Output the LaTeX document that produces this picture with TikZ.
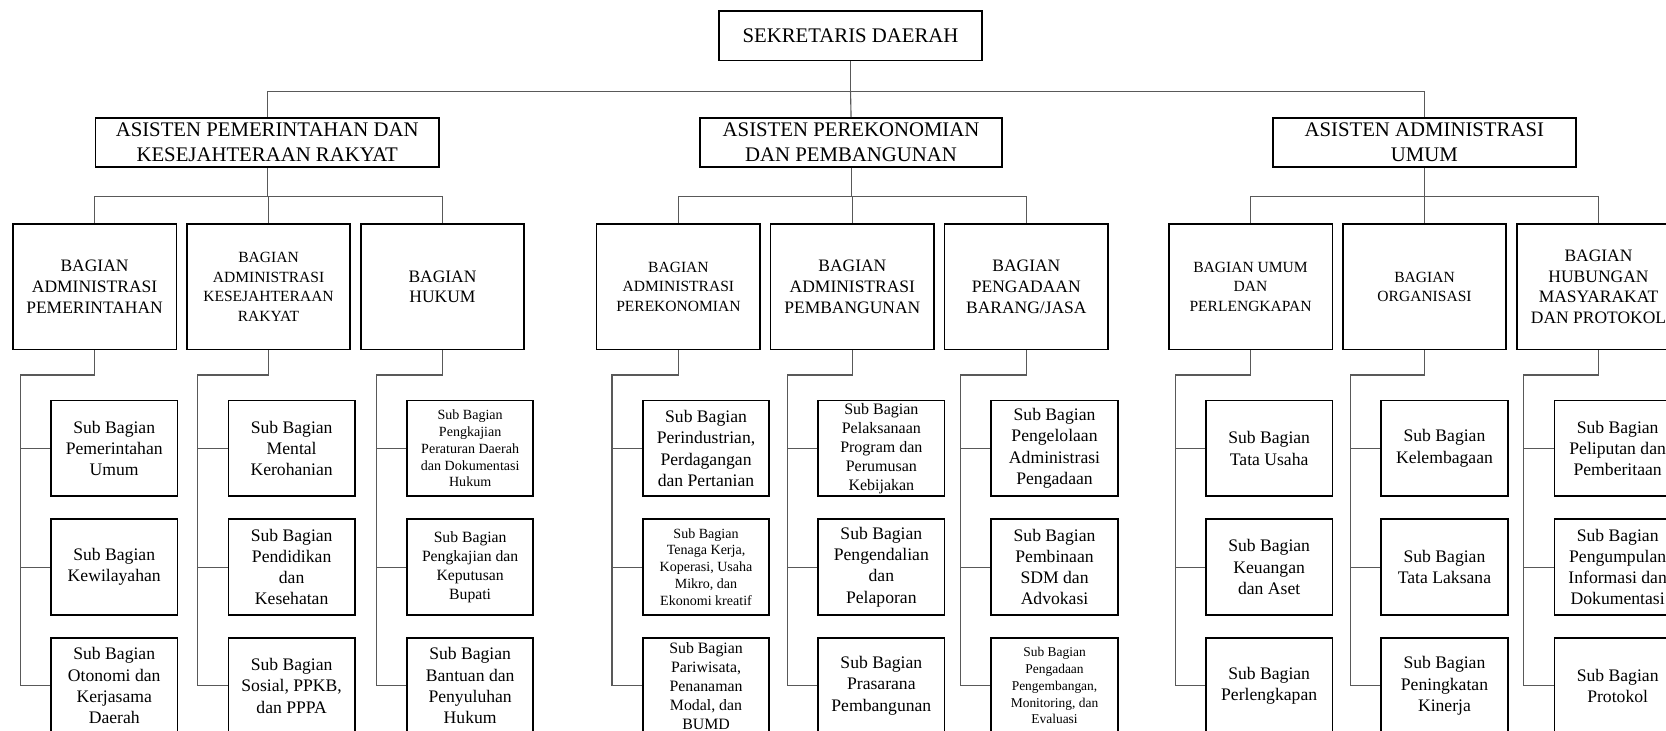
\documentclass[tikz,border=0pt]{standalone}
\usepackage{fontspec}
\setmainfont{Liberation Serif}
\usetikzlibrary{positioning}

\begin{document}
\begin{tikzpicture}[
        x=0.025cm, y=-0.025cm,
        node distance=0.5cm and 0.2cm,
        box/.style={rectangle,draw,line width=1.2pt,align=center,inner sep=0pt},
        kepalabox/.style={box,minimum height=1.15cm,font=\fontsize{13.9}{16.4}\selectfont},
        bagianbox/.style={box,minimum width=3.85cm,minimum height=2.95cm,font=\fontsize{11.7}{13.9}\selectfont},
        bagiankecil/.style={bagianbox,font=\fontsize{10.4}{13}\selectfont},
        subbox/.style={box,minimum width=2.975cm,minimum height=2.25cm,font=\fontsize{11.8}{14.2}\selectfont},
        subkecil/.style={subbox,font=\fontsize{9.4}{11.3}\selectfont},
        link/.style={draw=black!65,line width=0.75pt}
    ]
        \useasboundingbox (0,0) rectangle (1568,688);
        \clip (0,0) rectangle (1568,688);

        % pimpinan
        \node[kepalabox, minimum width=6.175cm, minimum height=1.175cm] (sekda) at (800.5,33.5) {SEKRETARIS DAERAH};
        \node[kepalabox, minimum width=8.075cm] (a1) at (251.5,134) {ASISTEN PEMERINTAHAN DAN\\KESEJAHTERAAN RAKYAT};
        \node[kepalabox, minimum width=7.1cm] (a2) at (801,134) {ASISTEN PEREKONOMIAN\\DAN PEMBANGUNAN};
        \node[kepalabox, minimum width=7.125cm] (a3) at (1340.5,134) {ASISTEN ADMINISTRASI\\UMUM};

        % bagian
        \node[bagianbox] (b11) at (89,270) {BAGIAN\\ADMINISTRASI\\PEMERINTAHAN};
        \node[bagiankecil, right=of b11] (b12) {BAGIAN\\ADMINISTRASI\\KESEJAHTERAAN\\RAKYAT};
        \node[bagianbox, right=of b12] (b13) {BAGIAN\\HUKUM};

        \node[bagiankecil] (b21) at (638.5,270) {BAGIAN\\ADMINISTRASI\\PEREKONOMIAN};
        \node[bagianbox, right=of b21] (b22) {BAGIAN\\ADMINISTRASI\\PEMBANGUNAN};
        \node[bagianbox, right=of b22] (b23) {BAGIAN\\PENGADAAN\\BARANG/JASA};

        \node[bagiankecil] (b31) at (1177,270) {BAGIAN UMUM\\DAN\\PERLENGKAPAN};
        \node[bagiankecil, right=of b31] (b32) {BAGIAN\\ORGANISASI};
        \node[bagianbox, right=of b32] (b33) {BAGIAN\\HUBUNGAN\\MASYARAKAT\\DAN PROTOKOL};

        % sub bagian - pemerintahan dan kesra
        \node[subbox] (s111) at (107.5,422) {Sub Bagian\\Pemerintahan\\Umum};
        \node[subbox, below=of s111] (s112) {Sub Bagian\\Kewilayahan};
        \node[subbox, below=of s112] (s113) {Sub Bagian\\Otonomi dan\\Kerjasama\\Daerah};
        \node[subbox] (s121) at (274.5,422) {Sub Bagian\\Mental\\Kerohanian};
        \node[subbox, below=of s121] (s122) {Sub Bagian\\Pendidikan\\dan\\Kesehatan};
        \node[subbox, below=of s122] (s123) {Sub Bagian\\Sosial, PPKB,\\dan PPPA};
        \node[subkecil] (s131) at (442.5,422) {Sub Bagian\\Pengkajian\\Peraturan Daerah\\dan Dokumentasi\\Hukum};
        \node[subbox, below=of s131, font=\fontsize{10.5}{12.8}\selectfont] (s132) {Sub Bagian\\Pengkajian dan\\Keputusan\\Bupati};
        \node[subbox, below=of s132] (s133) {Sub Bagian\\Bantuan dan\\Penyuluhan\\Hukum};

        % sub bagian - perekonomian dan pembangunan
        \node[subbox] (s211) at (664.5,422) {Sub Bagian\\Perindustrian,\\Perdagangan\\dan Pertanian};
        \node[subkecil, below=of s211] (s212) {Sub Bagian\\Tenaga Kerja,\\Koperasi, Usaha\\Mikro, dan\\Ekonomi kreatif};
        \node[subbox, below=of s212, font=\fontsize{10.6}{12.7}\selectfont] (s213) {Sub Bagian\\Pariwisata,\\Penanaman\\Modal, dan\\BUMD};
        \node[subbox, font=\fontsize{10.7}{12.7}\selectfont] (s221) at (829.5,422) {Sub Bagian\\Pelaksanaan\\Program dan\\Perumusan\\Kebijakan};
        \node[subbox, below=of s221] (s222) {Sub Bagian\\Pengendalian\\dan\\Pelaporan};
        \node[subbox, below=of s222] (s223) {Sub Bagian\\Prasarana\\Pembangunan};
        \node[subbox] (s231) at (992.5,422) {Sub Bagian\\Pengelolaan\\Administrasi\\Pengadaan};
        \node[subbox, below=of s231] (s232) {Sub Bagian\\Pembinaan\\SDM dan\\Advokasi};
        \node[subkecil, below=of s232, font=\fontsize{9}{11.2}\selectfont] (s233) {Sub Bagian\\Pengadaan\\Pengembangan,\\Monitoring, dan\\Evaluasi};

        % sub bagian - administrasi umum
        \node[subbox] (s311) at (1194.5,422) {Sub Bagian\\Tata Usaha};
        \node[subbox, below=of s311] (s312) {Sub Bagian\\Keuangan\\dan Aset};
        \node[subbox, below=of s312] (s313) {Sub Bagian\\Perlengkapan};
        \node[subbox] (s321) at (1359.5,422) {Sub Bagian\\Kelembagaan};
        \node[subbox, below=of s321] (s322) {Sub Bagian\\Tata Laksana};
        \node[subbox, below=of s322] (s323) {Sub Bagian\\Peningkatan\\Kinerja};
        \node[subbox] (s331) at (1522.5,422) {Sub Bagian\\Peliputan dan\\Pemberitaan};
        \node[subbox, below=of s331] (s332) {Sub Bagian\\Pengumpulan\\Informasi dan\\Dokumentasi};
        \node[subbox, below=of s332] (s333) {Sub Bagian\\Protokol};

        % titik belok garis sub bagian
        \coordinate (t11) at (19,353);
        \coordinate (t12) at (186,353);
        \coordinate (t13) at (354,353);
        \coordinate (t21) at (576,353);
        \coordinate (t22) at (741,353);
        \coordinate (t23) at (904,353);
        \coordinate (t31) at (1106,353);
        \coordinate (t32) at (1271,353);
        \coordinate (t33) at (1434,353);

        % garis sekda ke asisten
        \draw[link] (sekda.south) -- ++(0,28) coordinate (bus) -| (a1.north);
        \draw[link] (bus) -| (a3.north);
        \draw[link] (bus) -- (a2.north);

        % garis asisten ke bagian
        \draw[link] (a1.south) -- ++(0,27) coordinate (j1) -| (b11.north);
        \draw[link] (j1) -| (b12.north);
        \draw[link] (j1) -| (b13.north);
        \draw[link] (a2.south) -- ++(0,27) coordinate (j2) -| (b21.north);
        \draw[link] (j2) -| (b22.north);
        \draw[link] (j2) -| (b23.north);
        \draw[link] (a3.south) -- ++(0,27) coordinate (j3) -| (b31.north);
        \draw[link] (j3) -| (b32.north);
        \draw[link] (j3) -| (b33.north);

        % garis bagian ke sub bagian
        \draw[link] (b11.south) |- (t11) |- (s113.west);
        \draw[link] (t11) |- (s111.west);
        \draw[link] (t11) |- (s112.west);
        \draw[link] (b12.south) |- (t12) |- (s123.west);
        \draw[link] (t12) |- (s121.west);
        \draw[link] (t12) |- (s122.west);
        \draw[link] (b13.south) |- (t13) |- (s133.west);
        \draw[link] (t13) |- (s131.west);
        \draw[link] (t13) |- (s132.west);

        \draw[link] (b21.south) |- (t21) |- (s213.west);
        \draw[link] (t21) |- (s211.west);
        \draw[link] (t21) |- (s212.west);
        \draw[link] (b22.south) |- (t22) |- (s223.west);
        \draw[link] (t22) |- (s221.west);
        \draw[link] (t22) |- (s222.west);
        \draw[link] (b23.south) |- (t23) |- (s233.west);
        \draw[link] (t23) |- (s231.west);
        \draw[link] (t23) |- (s232.west);

        \draw[link] (b31.south) |- (t31) |- (s313.west);
        \draw[link] (t31) |- (s311.west);
        \draw[link] (t31) |- (s312.west);
        \draw[link] (b32.south) |- (t32) |- (s323.west);
        \draw[link] (t32) |- (s321.west);
        \draw[link] (t32) |- (s322.west);
        \draw[link] (b33.south) |- (t33) |- (s333.west);
        \draw[link] (t33) |- (s331.west);
        \draw[link] (t33) |- (s332.west);
    \end{tikzpicture}
\end{document}
